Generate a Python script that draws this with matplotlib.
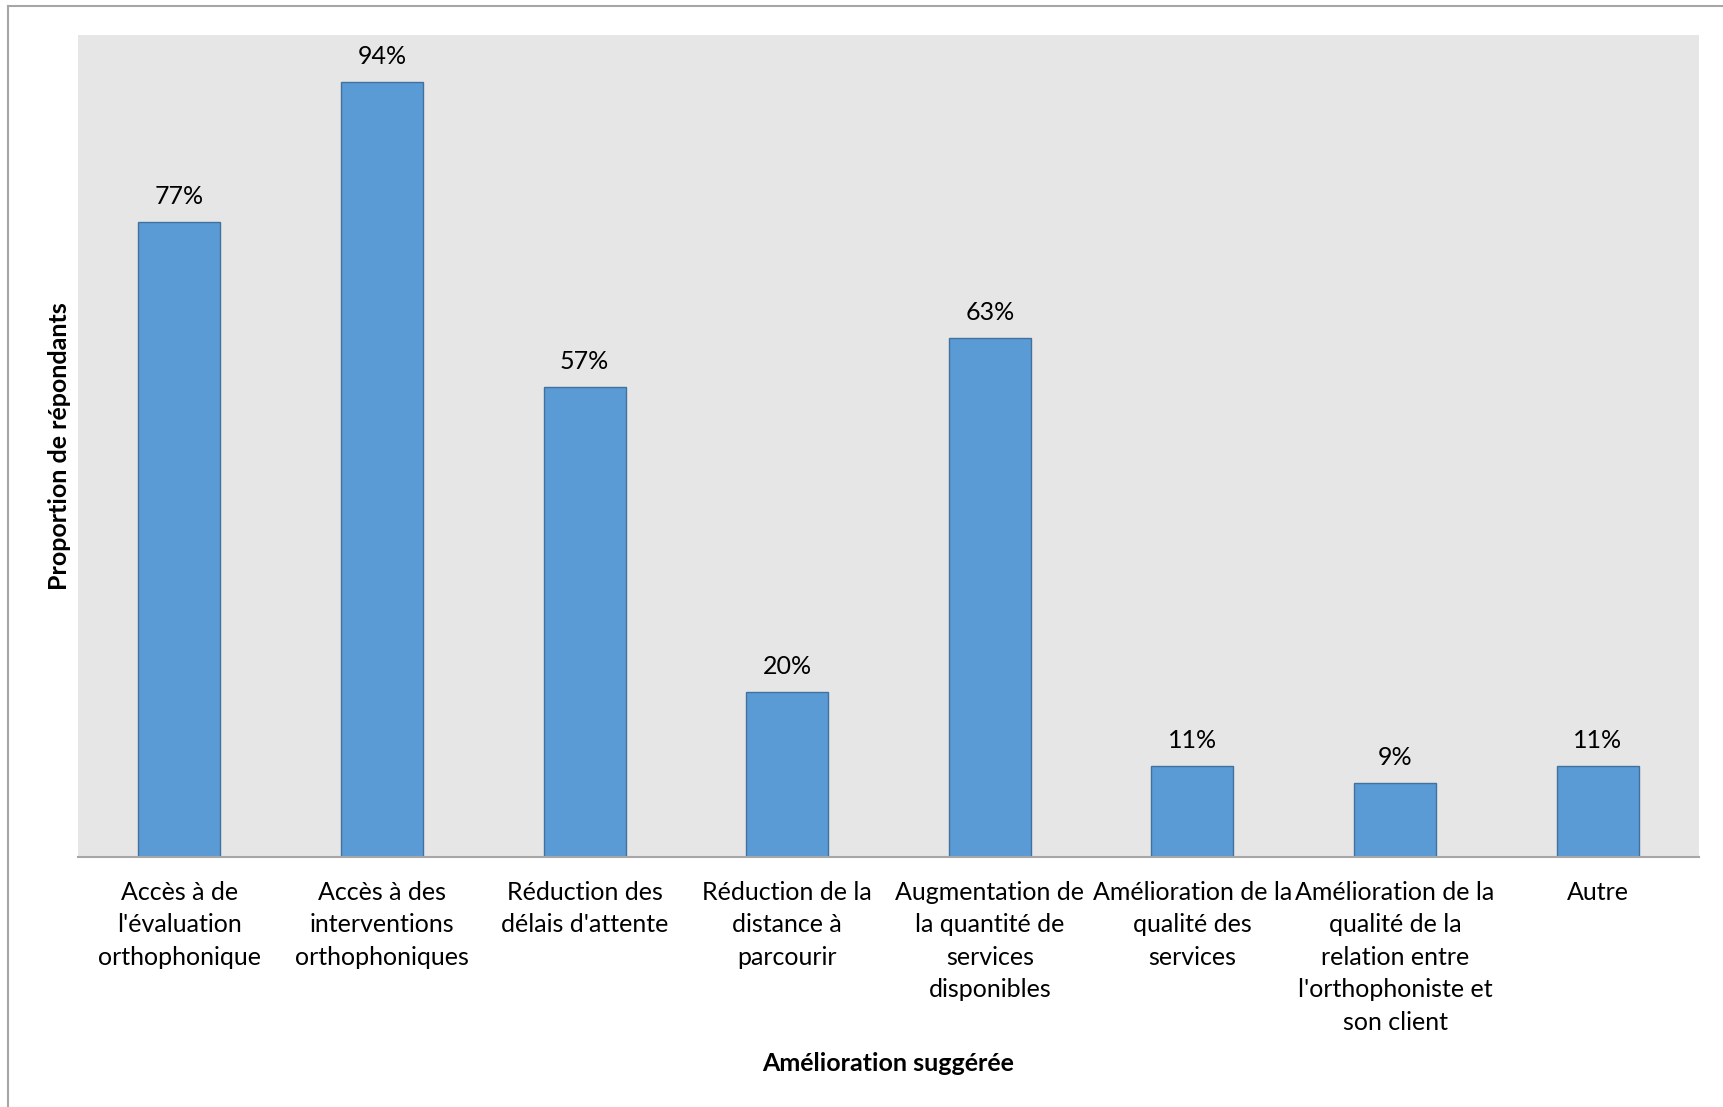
import matplotlib
matplotlib.use("Agg")
import matplotlib.pyplot as plt
from matplotlib.lines import Line2D

categories = [
    "Accès à de\nl'évaluation\northophonique",
    "Accès à des\ninterventions\northophoniques",
    "Réduction des\ndélais d'attente",
    "Réduction de la\ndistance à\nparcourir",
    "Augmentation de\nla quantité de\nservices\ndisponibles",
    "Amélioration de la\nqualité des\nservices",
    "Amélioration de la\nqualité de la\nrelation entre\nl'orthophoniste et\nson client",
    "Autre",
]
values = [77, 94, 57, 20, 63, 11, 9, 11]

W, H, DPI = 1724, 1107, 100
plt.rcParams["font.family"] = ["Lato", "DejaVu Sans"]

fig = plt.figure(figsize=(W / DPI, H / DPI), dpi=DPI)
fig.patch.set_facecolor("white")

# plot area in pixels: left 78, right 1699, top 35, bottom 857
left, right, top, bottom = 78, 1699, 35, 857
ax = fig.add_axes([left / W, 1 - bottom / H, (right - left) / W, (bottom - top) / H])
ax.set_facecolor("#E6E6E6")

x = list(range(len(categories)))
ax.bar(x, values, width=0.405, color="#5B9BD5", edgecolor="#41719C", linewidth=1.0, zorder=2)

for xi, v in zip(x, values):
    ax.annotate(f"{v}%", (xi, v), xytext=(0, 10), textcoords="offset points",
                ha="center", va="bottom", fontsize=18, color="#000000")

ax.set_xlim(-0.5, len(categories) - 0.5)
ax.set_ylim(0, 99.7)
ax.set_yticks([])
ax.set_xticks(x)
ax.set_xticklabels(categories, fontsize=18, linespacing=1.5)
ax.tick_params(axis="x", length=0, pad=17)

for side in ("top", "right", "left"):
    ax.spines[side].set_visible(False)
ax.spines["bottom"].set_color("#A6A6A6")
ax.spines["bottom"].set_linewidth(1.5)

ax.set_xlabel("Amélioration suggérée", fontsize=18, fontweight="bold", labelpad=13)
fig.text(60 / W, 1 - 446 / H, "Proportion de répondants", rotation=90, fontsize=18,
         fontweight="bold", ha="center", va="center")

# outer chart frame (left and top edges)
fig.add_artist(Line2D([8.5 / W, 8.5 / W], [0, 1 - 6 / H], transform=fig.transFigure,
                      color="#A6A6A6", linewidth=1.5))
fig.add_artist(Line2D([8.5 / W, 1], [1 - 6 / H, 1 - 6 / H], transform=fig.transFigure,
                      color="#A6A6A6", linewidth=1.5))

fig.savefig("out.png", dpi=DPI, facecolor="white")
